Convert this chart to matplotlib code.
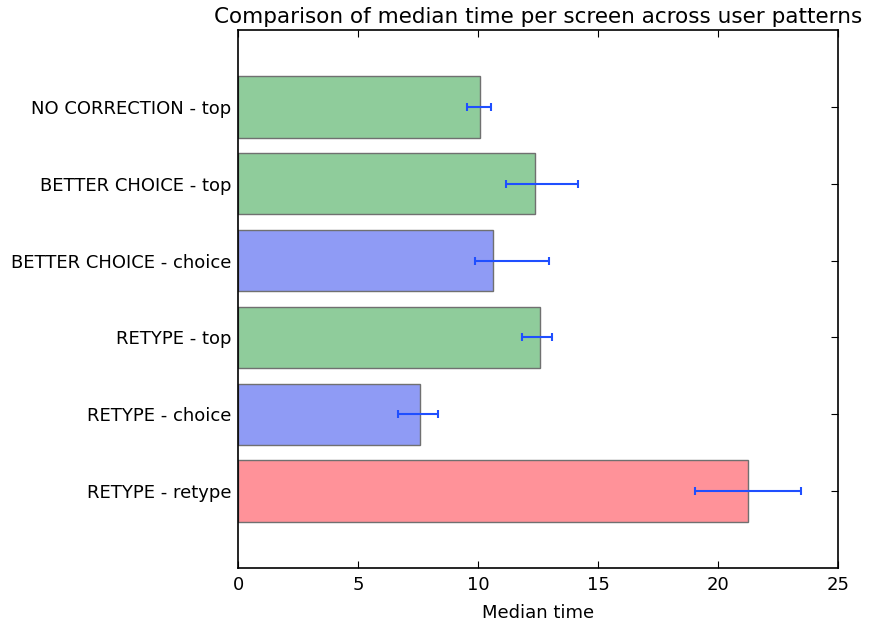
import matplotlib
matplotlib.use("Agg")
import matplotlib.pyplot as plt
import numpy as np

labels = [
    "RETYPE - retype",
    "RETYPE - choice",
    "RETYPE - top",
    "BETTER CHOICE - choice",
    "BETTER CHOICE - top",
    "NO CORRECTION - top",
]
medians = [21.25, 7.58, 12.58, 10.62, 12.38, 10.08]
err_lo = [19.05, 6.67, 11.83, 9.88, 11.17, 9.54]
err_hi = [23.45, 8.33, 13.08, 12.96, 14.17, 10.54]
colors = ["#ff9299", "#8f9bf5", "#8fcc9b", "#8f9bf5", "#8fcc9b", "#8fcc9b"]

# error bars are centred on the bar end only loosely, so give them as asymmetric offsets
y = np.arange(len(labels))
med = np.array(medians)
xerr = [med - np.array(err_lo), np.array(err_hi) - med]

fig = plt.figure(figsize=(8.71, 6.26), dpi=100)
ax = fig.add_axes([238 / 871, 1 - 568 / 626, 600 / 871, 538 / 626])

ax.barh(y, med, height=0.8, color=colors, edgecolor="#707070", linewidth=1.0,
        zorder=2)
ax.errorbar(med, y, xerr=xerr, fmt="none", ecolor="#1f4fff", elinewidth=1.5,
            capsize=3, capthick=1.5, zorder=3)

ax.set_xlim(0, 25)
ax.set_ylim(-1, 6)
ax.set_xticks([0, 5, 10, 15, 20, 25])
ax.set_yticks(y)
ax.set_yticklabels(labels)
ax.tick_params(direction="in", top=True, right=True, labelsize=13, length=5, pad=5)
ax.tick_params(axis="x", pad=6)
for s in ax.spines.values():
    s.set_linewidth(1.2)

ax.set_xlabel("Median time", fontsize=13, labelpad=7)
ax.set_title("Comparison of median time per screen across user patterns",
             fontsize=15.5, pad=5)

fig.savefig("out.png", dpi=100)
